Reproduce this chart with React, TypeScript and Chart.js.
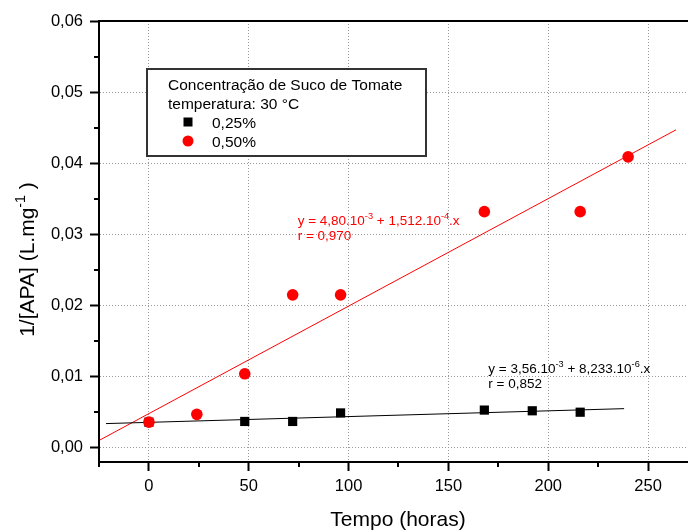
import React, { useEffect, useRef } from "react";
import { Chart, registerables } from "chart.js";
Chart.register(...registerables);

// ---- data ----
const hours025 = [0, 48, 72, 96, 168, 192, 216];
const values025 = [0.0036, 0.0037, 0.0037, 0.0049, 0.0053, 0.0052, 0.005];
const hours050 = [0, 24, 48, 72, 96, 168, 216, 240];
const values050 = [0.0036, 0.0047, 0.0104, 0.0215, 0.0215, 0.0332, 0.0332, 0.0409];
const fitHours025 = [-21.5, 238];
const fitValues025 = [0.0034, 0.0055];
const fitHours050 = [-24.5, 264];
const fitValues050 = [0.0011, 0.0447];
const seriesLabels = ["0,25%", "0,50%"];
const legendTitle = ["Concentração de Suco de Tomate", "temperatura: 30 °C"];
const xTitle = "Tempo (horas)";
type Part = { t: string; sup?: boolean };
const yTitleParts: Part[] = [{ t: "1/[APA] (L.mg" }, { t: "-1", sup: true }, { t: " )" }];
const eq050: Part[][] = [
  [{ t: "y = 4,80.10" }, { t: "-3", sup: true }, { t: " + 1,512.10" }, { t: "-4", sup: true }, { t: ".x" }],
  [{ t: "r = 0,970" }],
];
const eq025: Part[][] = [
  [{ t: "y = 3,56.10" }, { t: "-3", sup: true }, { t: " + 8,233.10" }, { t: "-6", sup: true }, { t: ".x" }],
  [{ t: "r = 0,852" }],
];
const eq050Anchor = [74.5, 0.0313];
const eq025Anchor = [170, 0.01053];
const xRange = [-25, 270];
const yRange = [-0.002, 0.06];

const FAMILY = '"Liberation Sans", Arial, Helvetica, sans-serif';

function measureRich(ctx: CanvasRenderingContext2D, parts: Part[], size: number) {
  let w = 0;
  for (const p of parts) {
    ctx.font = `${p.sup ? size * 0.68 : size}px ${FAMILY}`;
    w += ctx.measureText(p.t).width;
  }
  return w;
}
function drawRich(ctx: CanvasRenderingContext2D, parts: Part[], x: number, y: number, size: number) {
  let cx = x;
  for (const p of parts) {
    ctx.font = `${p.sup ? size * 0.68 : size}px ${FAMILY}`;
    ctx.fillText(p.t, cx, p.sup ? y - size * 0.45 : y);
    cx += ctx.measureText(p.t).width;
  }
}

const decorPlugin = {
  id: "decor",
  afterDraw(chart: any) {
    const ctx: CanvasRenderingContext2D = chart.ctx;
    const xs = chart.scales.x;
    const ys = chart.scales.y;
    const area = chart.chartArea;
    ctx.save();
    // top frame line
    ctx.strokeStyle = "#000";
    ctx.lineWidth = 2;
    ctx.beginPath();
    ctx.moveTo(area.left, area.top);
    ctx.lineTo(area.right, area.top);
    ctx.stroke();
    // minor ticks
    ctx.lineWidth = 2;
    for (let v = -25; v <= xRange[1]; v += 50) {
      const px = Math.round(xs.getPixelForValue(v));
      ctx.beginPath();
      ctx.moveTo(px, area.bottom);
      ctx.lineTo(px, area.bottom + 5);
      ctx.stroke();
    }
    for (let v = 0.005; v < yRange[1]; v += 0.01) {
      const py = Math.round(ys.getPixelForValue(v));
      ctx.beginPath();
      ctx.moveTo(area.left, py);
      ctx.lineTo(area.left - 5, py);
      ctx.stroke();
    }
    // equations
    ctx.textBaseline = "alphabetic";
    ctx.textAlign = "left";
    ctx.fillStyle = "#ff0000";
    let ex = xs.getPixelForValue(eq050Anchor[0]);
    let ey = ys.getPixelForValue(eq050Anchor[1]);
    eq050.forEach((line, i) => drawRich(ctx, line, ex, ey + i * 14.5, 13.5));
    ctx.fillStyle = "#000";
    ex = xs.getPixelForValue(eq025Anchor[0]);
    ey = ys.getPixelForValue(eq025Anchor[1]);
    eq025.forEach((line, i) => drawRich(ctx, line, ex, ey + i * 15, 13.5));

    // legend
    ctx.fillStyle = "#fff";
    ctx.fillRect(147, 69, 279, 87);
    ctx.strokeStyle = "#333";
    ctx.lineWidth = 2;
    ctx.strokeRect(147, 69, 279, 87);
    ctx.fillStyle = "#000";
    ctx.font = `15.5px ${FAMILY}`;
    ctx.fillText(legendTitle[0], 168, 90);
    ctx.fillText(legendTitle[1], 168, 109);
    const ds = chart.data.datasets;
    ctx.fillStyle = ds[2].backgroundColor;
    ctx.fillRect(183.5, 117.5, 9, 9);
    ctx.fillStyle = "#000";
    ctx.fillText(seriesLabels[0], 212, 128);
    ctx.fillStyle = ds[3].backgroundColor;
    ctx.beginPath();
    ctx.arc(188, 141, 5.5, 0, Math.PI * 2);
    ctx.fill();
    ctx.fillStyle = "#000";
    ctx.fillText(seriesLabels[1], 212, 147);

    // axis titles
    ctx.font = `21px ${FAMILY}`;
    ctx.textAlign = "center";
    ctx.fillText(xTitle, 398, 526);
    ctx.textAlign = "left";
    const yw = measureRich(ctx, yTitleParts, 21);
    ctx.translate(34, 259.5);
    ctx.rotate(-Math.PI / 2);
    drawRich(ctx, yTitleParts, -yw / 2, 0, 21);
    ctx.restore();
  },
};

export default function App() {
  const ref = useRef<HTMLCanvasElement>(null);
  useEffect(() => {
    const pts = (xs: number[], ys: number[]) => xs.map((x, i) => ({ x, y: ys[i] }));
    const chart = new Chart(ref.current as HTMLCanvasElement, {
      type: "scatter",
      data: {
        datasets: [
          {
            label: "fit 0,50%",
            data: pts(fitHours050, fitValues050),
            showLine: true,
            pointRadius: 0,
            borderColor: "#ff0000",
            borderWidth: 1,
            order: 4,
          },
          {
            label: "fit 0,25%",
            data: pts(fitHours025, fitValues025),
            showLine: true,
            pointRadius: 0,
            borderColor: "#000",
            borderWidth: 1,
            order: 3,
          },
          {
            label: seriesLabels[0],
            data: pts(hours025, values025),
            pointStyle: "rect",
            pointRadius: 6.5,
            backgroundColor: "#000",
            borderWidth: 0,
            order: 2,
          },
          {
            label: seriesLabels[1],
            data: pts(hours050, values050),
            pointStyle: "circle",
            pointRadius: 5.8,
            backgroundColor: "#ff0000",
            borderWidth: 0,
            order: 1,
          },
        ] as any,
      },
      options: {
        responsive: false,
        animation: false,
        devicePixelRatio: 1,
        layout: { autoPadding: false, padding: { top: 21, left: 0, right: 0, bottom: 0 } },
        plugins: { legend: { display: false }, tooltip: { enabled: false } },
        scales: {
          x: {
            type: "linear",
            min: xRange[0],
            max: xRange[1],
            afterFit: (s: any) => {
              s.height = 69;
              s.paddingLeft = 0;
              s.paddingRight = 0;
            },
            ticks: {
              stepSize: 50,
              includeBounds: false,
              color: "#000",
              padding: 6,
              font: { family: FAMILY, size: 16.5 },
              callback: (v: any) => String(v),
            },
            grid: { color: "#999", lineWidth: 1, tickLength: 9, tickColor: "#000", tickWidth: 2 },
            border: { display: true, color: "#000", width: 2, dash: [1, 2] },
          },
          y: {
            type: "linear",
            min: yRange[0],
            max: yRange[1],
            afterFit: (s: any) => {
              s.width = 99;
              s.paddingTop = 0;
              s.paddingBottom = 0;
            },
            ticks: {
              stepSize: 0.01,
              includeBounds: false,
              color: "#000",
              padding: 7,
              font: { family: FAMILY, size: 16.5 },
              callback: (v: any) => Number(v).toFixed(2).replace(".", ","),
            },
            grid: { color: "#999", lineWidth: 1, tickLength: 9, tickColor: "#000", tickWidth: 2 },
            border: { display: true, color: "#000", width: 2, dash: [1, 2] },
          },
        },
      } as any,
      plugins: [decorPlugin],
    });
    return () => chart.destroy();
  }, []);
  return (
    <div style={{ position: "absolute", left: 0, top: 0, width: 688, height: 531, background: "#fff" }}>
      <canvas ref={ref} width={688} height={531} style={{ display: "block" }} />
    </div>
  );
}
